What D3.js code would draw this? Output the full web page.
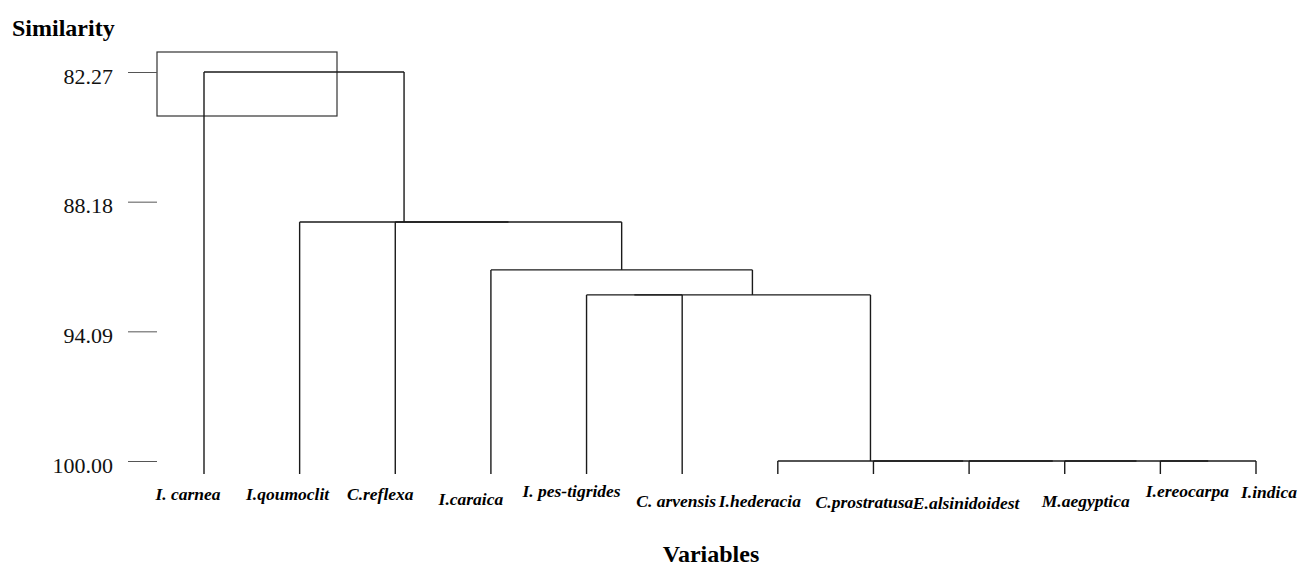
<!DOCTYPE html>
<html>
<head>
<meta charset="utf-8">
<script src="https://cdn.jsdelivr.net/npm/d3@7"></script>
<style>
  body { margin: 0; background: #fff; }
  svg { display: block; font-family: "Liberation Serif", "Times New Roman", serif; }
  .leaf-label { font-size: 17.5px; font-weight: bold; font-style: italic; }
  .axis-title { font-size: 24px; font-weight: bold; }
  .tick text { font-size: 22px; fill: #111; font-family: "Liberation Serif", "Times New Roman", serif; }
  .tick line { stroke: #555; }
  .link { stroke: #1a1a1a; stroke-width: 1.4; fill: none; }
</style>
</head>
<body>
<div class="graph-container"></div>
<script>
// leaves, left to right
var leaves = ['I. carnea', 'I.qoumoclit', 'C.reflexa', 'I.caraica', 'I. pes-tigrides',
  'C. arvensis', 'I.hederacia', 'C.prostratusa', 'E.alsinidoidest', 'M.aegyptica',
  'I.ereocarpa', 'I.indica'];

// merges: [left id, right id, similarity]  (ids 0-11 are leaves, 12+ are clusters)
var mergeLeft  = [10,  9,  8,  7,  6,     4,    17,     3,     2,     1,     0];
var mergeRight = [11, 12, 13, 14, 15,     5,    16,    18,    19,    20,    21];
var mergeSim   = [100, 100, 100, 100, 100, 92.43, 92.43, 91.29, 89.11, 89.11, 82.27];

// y axis tick labels
var simTicks = [82.27, 88.18, 94.09, 100.00];

var svgWidth = 1304;
var svgHeight = 568;

// label tweaks (the original labels are not centred on their leaves)
var labelDx = [-16, -12, -15, -20, -15, -6, -18, -9, -3, 21, 27, 13];
var labelY  = [500, 500, 500, 505, 497, 507, 507, 508, 509, 507, 497, 498];

var svg = d3.select('.graph-container').append('svg')
  .attr('width', svgWidth)
  .attr('height', svgHeight);

var xScale = d3.scalePoint()
  .domain(d3.range(leaves.length))
  .range([204, 1256]);

var yScale = d3.scaleLinear()
  .domain([simTicks[0], 100])
  .range([72, 461]);

var leafBottom = yScale(100) + 13;

// node positions: leaves first, then every merge sits midway between its children
var nodeX = leaves.map(function(d, i) { return xScale(i); });
var nodeY = leaves.map(function() { return leafBottom; });

var segments = [];
mergeSim.forEach(function(s, i) {
  var a = mergeLeft[i], b = mergeRight[i];
  var y = yScale(s);
  segments.push([nodeX[a], nodeY[a], nodeX[a], y]);
  segments.push([nodeX[b], nodeY[b], nodeX[b], y]);
  segments.push([nodeX[a], y, nodeX[b], y]);
  nodeX.push((nodeX[a] + nodeX[b]) / 2);
  nodeY.push(y);
});

// box drawn round the top of the tree in the original
svg.append('rect')
  .attr('x', 157)
  .attr('y', 52)
  .attr('width', 180)
  .attr('height', 64)
  .attr('fill', 'none')
  .attr('stroke', '#333')
  .attr('stroke-width', 1.2);

svg.selectAll('line.link')
  .data(segments)
  .enter()
  .append('line')
  .attr('class', 'link')
  .attr('x1', function(d) { return d[0]; })
  .attr('y1', function(d) { return d[1]; })
  .attr('x2', function(d) { return d[2]; })
  .attr('y2', function(d) { return d[3]; });

// y axis
var yAxis = d3.axisLeft(yScale)
  .tickValues(simTicks)
  .tickFormat(function(d) { return d.toFixed(2); })
  .tickSize(29)
  .tickPadding(15);

var gy = svg.append('g')
  .attr('transform', 'translate(157,0)')
  .call(yAxis)
  .attr('font-family', null)
  .attr('font-size', null);
gy.select('.domain').remove();
gy.selectAll('text').attr('dy', '0.5em');

// leaf labels
svg.selectAll('text.leaf-label')
  .data(leaves)
  .enter()
  .append('text')
  .attr('class', 'leaf-label')
  .attr('x', function(d, i) { return xScale(i) + labelDx[i]; })
  .attr('y', function(d, i) { return labelY[i]; })
  .style('text-anchor', 'middle')
  .text(function(d) { return d; });

// titles
svg.append('text')
  .attr('class', 'axis-title')
  .attr('x', 12)
  .attr('y', 36)
  .text('Similarity');

svg.append('text')
  .attr('class', 'axis-title')
  .attr('x', 711)
  .attr('y', 562)
  .style('text-anchor', 'middle')
  .text('Variables');
</script>
</body>
</html>
